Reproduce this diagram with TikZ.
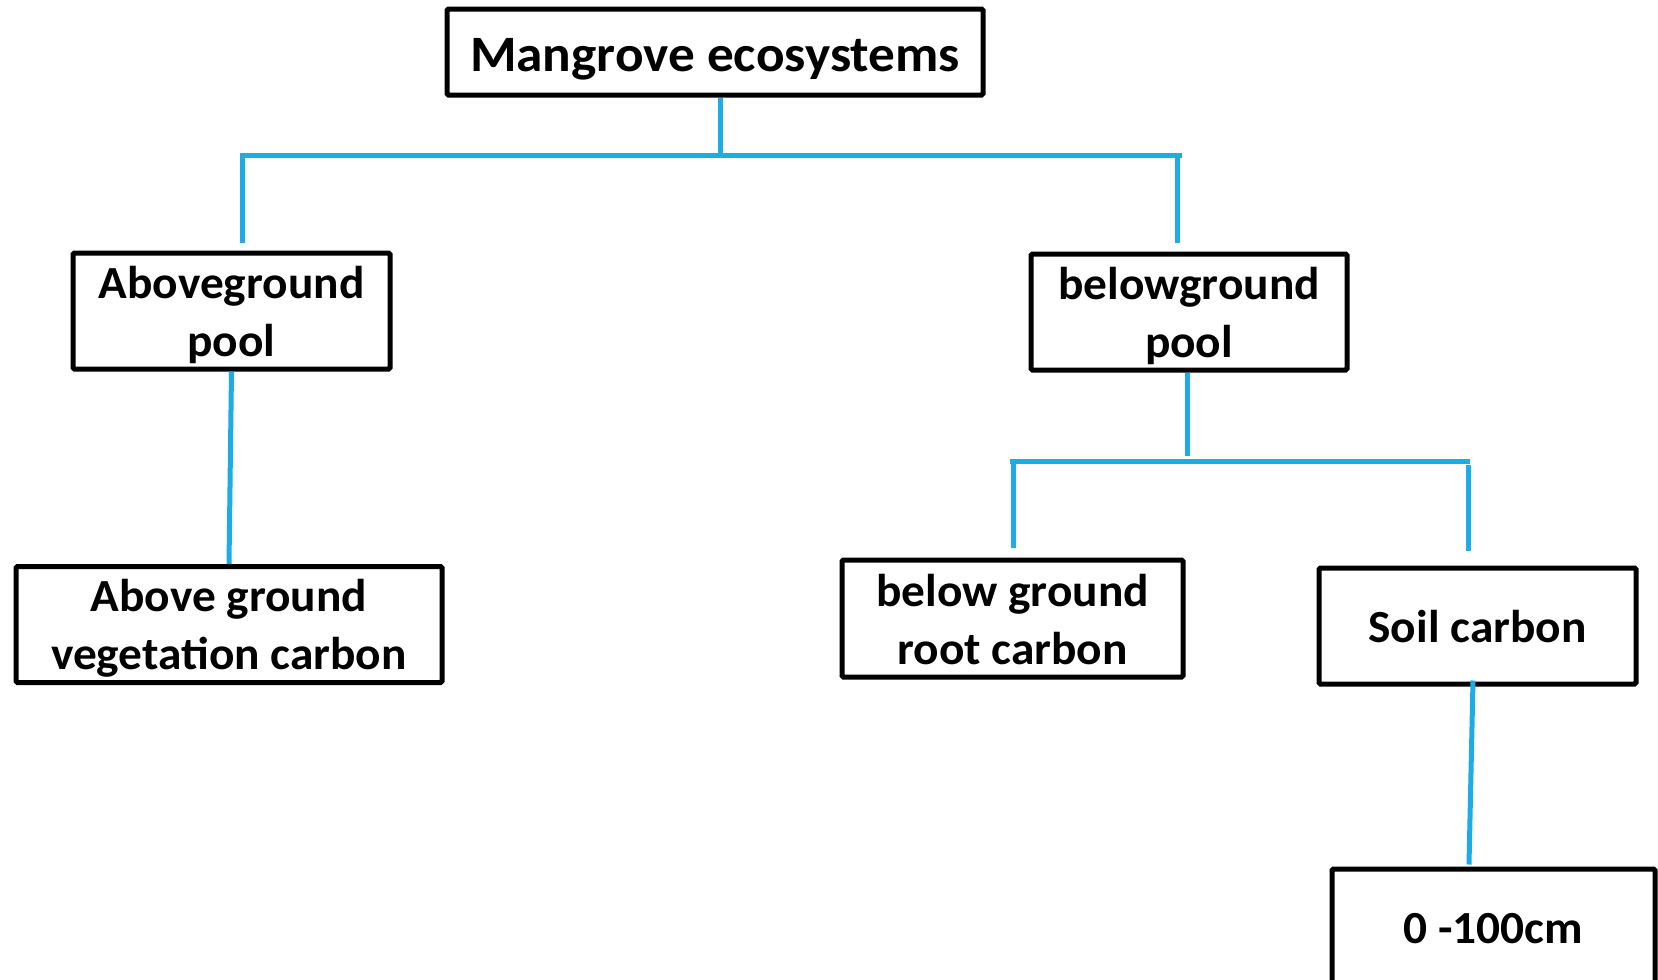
\documentclass[tikz,border=0pt]{standalone}
\usepackage{fontspec}
\usepackage{graphicx}
\setmainfont{Carlito}
\usetikzlibrary{calc}
\definecolor{linkblue}{RGB}{30,172,228}
\newcommand{\boxlines}[3]{\raisebox{#1}[\height][\depth]{\scalebox{#2}[1]{\begin{tabular}{@{}c@{}}#3\end{tabular}}}}
\tikzset{
  box/.style={draw=black, line width=5pt, rectangle, inner sep=0pt,
    font=\bfseries\fontsize{46}{58}\selectfont, rounded corners=1.5pt},
  link/.style={draw=linkblue, line width=5pt}
}
\begin{document}
\begin{tikzpicture}[x=1pt,y=-1pt]
\useasboundingbox[fill=white] (0,0) rectangle (1658,980);
\clip (0,0) rectangle (1658,980);
\node[box, minimum width=536pt, minimum height=86pt, font=\bfseries\fontsize{51}{60}\selectfont] (top) at (715,52) {\boxlines{-7pt}{1.045}{Mangrove ecosystems}};
\node[box, minimum width=317pt, minimum height=116pt] (agp) at (231.5,311) {\boxlines{-4.5pt}{1.03}{Aboveground\\pool}};
\node[box, minimum width=316pt, minimum height=116pt] (bgp) at (1189,312) {\boxlines{-4.5pt}{1.03}{belowground\\pool}};
\node[box, minimum width=426pt, minimum height=115pt] (agvc) at (229,624.5) {\boxlines{-4.5pt}{1.03}{Above ground\\vegetation carbon}};
\node[box, minimum width=341pt, minimum height=117pt] (bgrc) at (1012.5,618.5) {\boxlines{-5pt}{1.03}{below ground\\root carbon}};
\node[box, minimum width=317pt, minimum height=116pt] (soil) at (1477.5,626) {\boxlines{-4.5pt}{1.03}{Soil carbon}};
\node[box, minimum width=323pt, minimum height=116pt] (depth) at (1493.5,927) {\boxlines{-4.5pt}{1.03}{0 -100cm}};
% first level connectors
\coordinate (hm) at (720,155);
\coordinate (hl) at (242,155);
\coordinate (hr) at (1179,155);
\draw[link] ($(top.south)+(5,0)$) -- (hm);
\draw[link] ($(hl)+(-2.5,0)$) -- ($(hr)+(2.5,0)$);
\draw[link] (hl) -- ($(agp.north)+(10.5,-8)$);
\draw[link] ($(hr)+(-2,0)$) -- ($(bgp.north)+(-12,-9)$);
\draw[link] (agp.south) -- (agvc.north);
% second level connectors
\coordinate (gl) at (1013,461);
\coordinate (gr) at (1468,461);
\draw[link] ($(bgp.south)+(-2,0)$) -- ($(bgp.south)+(-2,83)$);
\draw[link] ($(gl)+(-3,0)$) -- ($(gr)+(2,0)$);
\draw[link] (gl) -- ($(bgrc.north)+(0.5,-10)$);
\draw[link] ($(gr)+(0,4)$) -- ($(soil.north)+(-9.5,-15)$);
\draw[link] ($(soil.south)+(-4.5,-6)$) -- ($(depth.north)+(-24.5,-2)$);
\end{tikzpicture}
\end{document}
